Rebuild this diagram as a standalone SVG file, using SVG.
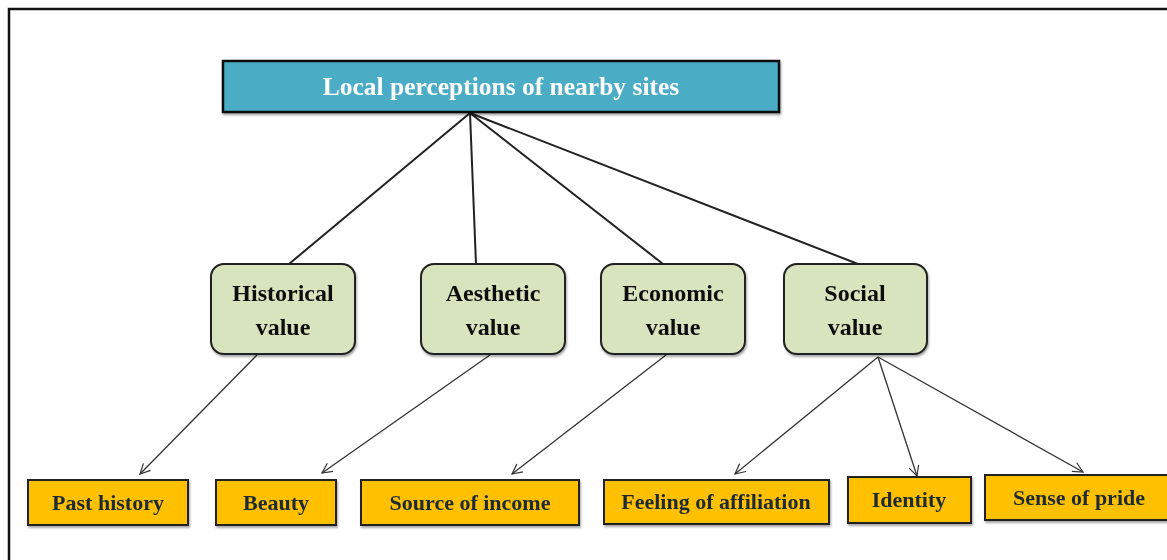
<svg xmlns="http://www.w3.org/2000/svg" width="1167" height="560" viewBox="0 0 1167 560">
<defs>
<marker id="arr" viewBox="0 0 12 12" refX="11" refY="6" markerWidth="12" markerHeight="12" markerUnits="userSpaceOnUse" orient="auto">
<path d="M1,1 L11,6 L1,11" fill="none" stroke="#333" stroke-width="1.2"/>
</marker>
<filter id="sh" x="-10%" y="-10%" width="120%" height="130%">
<feDropShadow dx="1" dy="2" stdDeviation="1.2" flood-color="#000" flood-opacity="0.35"/>
</filter>
</defs>
<style>
.top{fill:#4BACC6;stroke:#111;stroke-width:2.5}
.mid{fill:#D7E4BD;stroke:#222;stroke-width:2}
.leaf{fill:#FFC000;stroke:#222;stroke-width:2}
.t{font-family:"Liberation Serif",serif;font-weight:bold;text-anchor:middle}
.tt{font-size:25.5px;fill:#fff}
.mt{font-size:24px;fill:#111}
.lt{font-size:22px;fill:#1f2a36}
.ln{stroke:#222;stroke-width:2;fill:none}
.ar{stroke:#333;stroke-width:1.3;fill:none;marker-end:url(#arr)}
</style>
<rect x="9" y="9" width="1170" height="560" fill="none" stroke="#111" stroke-width="2.5"/>
<g id="connectors">
<line class="ln" x1="470" y1="113" x2="289" y2="264"/>
<line class="ln" x1="470" y1="113" x2="476" y2="264"/>
<line class="ln" x1="470" y1="113" x2="663" y2="264"/>
<line class="ln" x1="470" y1="113" x2="858" y2="264"/>
<line class="ar" x1="257" y1="355" x2="140" y2="474"/>
<line class="ar" x1="490" y1="355" x2="322" y2="473"/>
<line class="ar" x1="666" y1="355" x2="512" y2="474"/>
<line class="ar" x1="878" y1="357" x2="735" y2="474"/>
<line class="ar" x1="878" y1="357" x2="917" y2="476"/>
<line class="ar" x1="878" y1="357" x2="1083" y2="472"/>
</g>
<g id="root" filter="url(#sh)">
<rect class="top" x="223" y="61" width="556" height="51"/>
<text class="t tt" x="501" y="95">Local perceptions of nearby sites</text>
</g>
<g id="historical" filter="url(#sh)">
<rect class="mid" x="211" y="264" width="144" height="90" rx="13"/>
<text class="t mt" x="283" y="301">Historical</text>
<text class="t mt" x="283" y="335">value</text>
</g>
<g id="aesthetic" filter="url(#sh)">
<rect class="mid" x="421" y="264" width="144" height="90" rx="13"/>
<text class="t mt" x="493" y="301">Aesthetic</text>
<text class="t mt" x="493" y="335">value</text>
</g>
<g id="economic" filter="url(#sh)">
<rect class="mid" x="601" y="264" width="144" height="90" rx="13"/>
<text class="t mt" x="673" y="301">Economic</text>
<text class="t mt" x="673" y="335">value</text>
</g>
<g id="social" filter="url(#sh)">
<rect class="mid" x="784" y="264" width="143" height="90" rx="13"/>
<text class="t mt" x="855" y="301">Social</text>
<text class="t mt" x="855" y="335">value</text>
</g>
<g id="past-history" filter="url(#sh)">
<rect class="leaf" x="28" y="480" width="160" height="45"/>
<text class="t lt" x="108" y="510">Past history</text>
</g>
<g id="beauty" filter="url(#sh)">
<rect class="leaf" x="216" y="480" width="120" height="45"/>
<text class="t lt" x="276" y="510">Beauty</text>
</g>
<g id="source-of-income" filter="url(#sh)">
<rect class="leaf" x="361" y="480" width="218" height="45"/>
<text class="t lt" x="470" y="510">Source of income</text>
</g>
<g id="feeling-of-affiliation" filter="url(#sh)">
<rect class="leaf" x="604" y="480" width="225" height="44"/>
<text class="t lt" x="716" y="509">Feeling of affiliation</text>
</g>
<g id="identity" filter="url(#sh)">
<rect class="leaf" x="848" y="477" width="123" height="46"/>
<text class="t lt" x="909" y="507">Identity</text>
</g>
<g id="sense-of-pride" filter="url(#sh)">
<rect class="leaf" x="985" y="475" width="190" height="45"/>
<text class="t lt" x="1079" y="505">Sense of pride</text>
</g>
</svg>
